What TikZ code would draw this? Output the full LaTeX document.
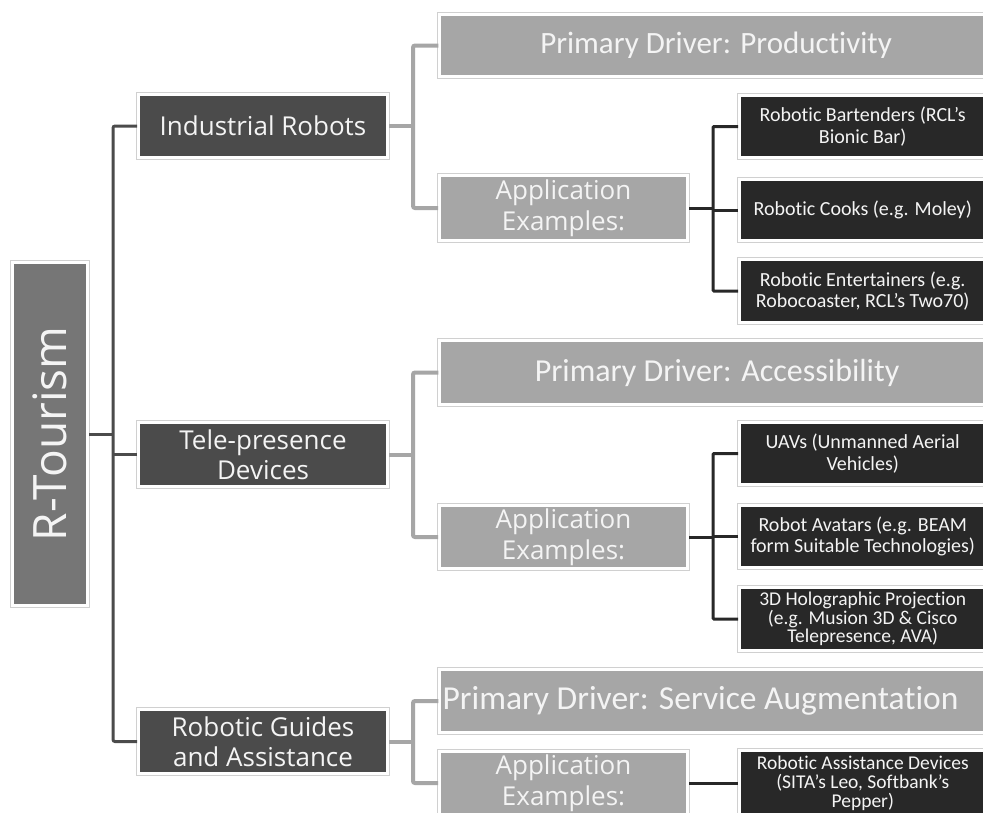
\documentclass[tikz,border=0pt]{standalone}
\usepackage{fontspec}
\setmainfont{Carlito}[Ligatures=NoCommon]
\newfontfamily\osans{Open Sans}
\definecolor{cRoot}{HTML}{767676}
\definecolor{cOne}{HTML}{4B4B4B}
\definecolor{cTwo}{HTML}{A6A6A6}
\definecolor{cThree}{HTML}{282828}
\definecolor{cEdge}{HTML}{D0D0D0}
\definecolor{cTxt}{HTML}{F4F4F4}
\begin{document}
\begin{tikzpicture}[x=1pt,y=-1pt,
  box/.style={rectangle, inner sep=0pt, draw=white, line width=3pt,
    preaction={draw=cEdge, line width=5pt}, text=cTxt, align=center},
  rootbox/.style={box, fill=cRoot, minimum width=75pt, minimum height=343pt},
  onebox/.style={box, fill=cOne, minimum width=249pt, minimum height=63pt,
    font=\osans\fontsize{26}{29.5}\selectfont},
  pdbox/.style={box, fill=cTwo, minimum width=560pt, minimum height=63pt},
  pdtext/.style={text=cTxt, inner sep=0pt, font=\fontsize{31}{36}\selectfont},
  appbox/.style={box, fill=cTwo, minimum width=248pt, minimum height=64pt,
    font=\osans\fontsize{26}{31}\selectfont},
  threebox/.style={box, fill=cThree, minimum width=246.5pt, minimum height=62pt,
    font=\fontsize{20}{21.5}\selectfont},
  trunk/.style={draw=cOne, line width=3pt, rounded corners=2pt},
  light/.style={draw=cTwo, line width=4pt, rounded corners=2pt},
  darkc/.style={draw=cThree, line width=3pt, rounded corners=1pt}
]
\useasboundingbox (0,0) rectangle (983,812);
\clip (0,0) rectangle (983,812);
\fill[white] (0,0) rectangle (983,812);

% coordinates of connector spines
\coordinate (tr) at (113,0);
\coordinate (lA) at (413,0);
\coordinate (dA) at (713,0);

% root
\node[rootbox] (root) at (50,434) {};
\node[text=cTxt, rotate=90, inner sep=0pt, font=\osans\fontsize{46}{50}\selectfont] (roottext) at (root.center) {R-Tourism};

% level 1
\node[onebox] (ind) at (263,126) {Industrial Robots};
\node[onebox, minimum height=64pt] (tel) at (263,454.5) {Tele-presence\\Devices};
\node[onebox, minimum height=64pt] (gui) at (263,741.5) {Robotic Guides\\and Assistance};

% level 2 primary driver
\node[pdbox, minimum height=62pt] (pd1) at (719.75,45.5) {};
\node[pdtext] (pd1t) at (716,45.5) {Primary Driver: Productivity};
\node[pdbox, minimum height=64pt] (pd2) at (719.75,372.5) {};
\node[pdtext, font=\fontsize{32}{36}\selectfont] (pd2t) at (717,372.5) {Primary Driver: Accessibility};
\node[pdbox] (pd3) at (719.75,701) {};
\node[pdtext, font=\fontsize{33.5}{38}\selectfont] (pd3t) at (700.5,701) {Primary Driver: Service Augmentation};

% level 2 application
\node[appbox, minimum height=65pt] (app1) at (563.5,208) {Application\\Examples:};
\node[appbox, minimum height=63pt] (app2) at (563.5,537) {Application\\Examples:};
\node[appbox] (app3) at (563.5,783) {Application\\Examples:};

% level 3
\node[threebox] (b1) at (862.75,126.5) {Robotic Bartenders (RCL’s\\Bionic Bar)};
\node[threebox, minimum height=61pt] (b2) at (862.75,210) {Robotic Cooks (e.g. Moley)};
\node[threebox, minimum height=63pt] (b3) at (862.75,291) {Robotic Entertainers (e.g.\\Robocoaster, RCL’s Two70)};
\node[threebox] (u1) at (862.75,453.5) {UAVs (Unmanned Aerial\\Vehicles)};
\node[threebox] (u2) at (862.75,536.5) {Robot Avatars (e.g. BEAM\\form Suitable Technologies)};
\node[threebox, minimum height=63pt, font=\fontsize{19.5}{17}\selectfont] (u3) at (862.75,619) {3D Holographic Projection\\(e.g. Musion 3D \& Cisco\\Telepresence, AVA)};
\node[threebox, minimum height=65pt, font=\fontsize{19.5}{19}\selectfont] (a1) at (862.75,783) {Robotic Assistance Devices\\(SITA’s Leo, Softbank’s\\Pepper)};

% connectors: root trunk
\draw[trunk] (root.east) -- (root.east -| tr);
\draw[trunk] (ind.west) -| (tr |- gui.west) -- (gui.west);
\draw[trunk] (tel.west) -- (tel.west -| tr);

% level1 -> level2
\draw[light] (ind.east) -- (ind.east -| lA);
\draw[light] (pd1.west) -| (lA |- app1.west) -- (app1.west);
\draw[light] (tel.east) -- (tel.east -| lA);
\draw[light] (pd2.west) -| (lA |- app2.west) -- (app2.west);
\draw[light] (gui.east) -- (gui.east -| lA);
\draw[light] (pd3.west) -| (lA |- app3.west) -- (app3.west);

% level2 -> level3
\draw[darkc] (app1.east) -- (app1.east -| dA);
\draw[darkc] (b1.west) -| (dA |- b3.west) -- (b3.west);
\draw[darkc] (b2.west) -- (b2.west -| dA);
\draw[darkc] (app2.east) -- (app2.east -| dA);
\draw[darkc] (u1.west) -| (dA |- u3.west) -- (u3.west);
\draw[darkc] (u2.west) -- (u2.west -| dA);
\draw[darkc] (app3.east) -- (a1.west);
\end{tikzpicture}
\end{document}
